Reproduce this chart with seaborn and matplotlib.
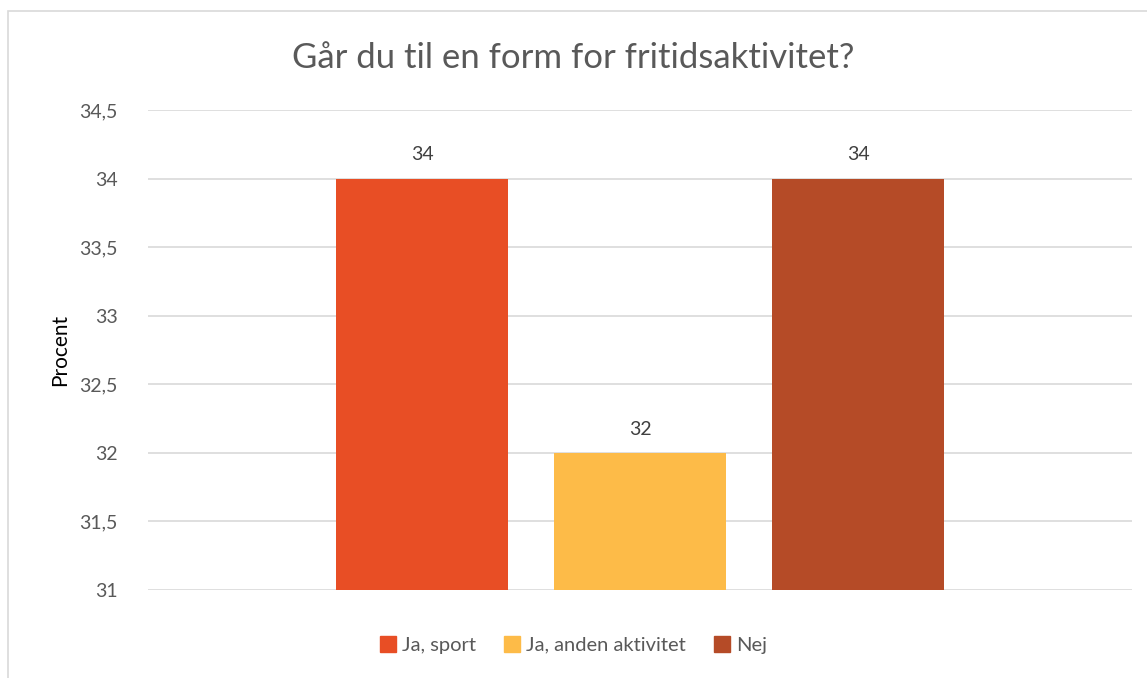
import matplotlib
matplotlib.use("Agg")
import matplotlib.pyplot as plt
from matplotlib.ticker import FuncFormatter
from matplotlib.patches import Rectangle
import seaborn as sns
import pandas as pd

categories = ["Ja, sport", "Ja, anden aktivitet", "Nej"]
values = [34, 32, 34]
colors = ["#E84E25", "#FDBB48", "#B54B27"]

sns.set_theme(style="white")
plt.rcParams['font.family'] = ['Lato', 'DejaVu Sans']

df = pd.DataFrame({"svar": categories, "procent": values})

fig = plt.figure(figsize=(11.47, 6.78), dpi=100)
ax = fig.add_axes([148 / 1147, 1 - 590 / 678, (1132 - 148) / 1147, (590 - 110) / 678])

sns.barplot(data=df, x="svar", y="procent", hue="svar", palette=colors,
            width=0.79, dodge=False, legend=False, ax=ax, saturation=1,
            linewidth=0)

ax.set_ylim(31, 34.5)
ax.set_xlim(-1.257, 3.257)
ax.set_yticks([31, 31.5, 32, 32.5, 33, 33.5, 34, 34.5])
ax.yaxis.set_major_formatter(FuncFormatter(lambda v, p: f"{v:g}".replace(".", ",")))
ax.tick_params(axis="y", labelsize=14, labelcolor="#595959", length=0, pad=22)
ax.set_xticks([])
ax.set_xlabel("")
ax.set_ylabel("Procent", fontsize=15, color="black", labelpad=6)
ax.grid(axis="y", color="#D9D9D9", linewidth=1.2)
ax.set_axisbelow(True)
for s in ax.spines.values():
    s.set_visible(False)

for i, v in enumerate(values):
    ax.annotate(f"{v}", (i, v), xytext=(0, 11), textcoords="offset points",
                ha="center", va="bottom", fontsize=14, color="#404040")

fig.text(0.5, 1 - 58 / 678, "Går du til en form for fritidsaktivitet?",
         ha="center", va="center", fontsize=25, color="#595959")

handles = [Rectangle((0, 0), 1, 1, color=c) for c in colors]
fig.legend(handles, categories, loc="center", bbox_to_anchor=(0.5, 1 - 645 / 678),
           ncol=3, frameon=False, fontsize=14.5, handlelength=0.8, handleheight=0.8,
           columnspacing=1.4, handletextpad=0.3, labelcolor="#595959")

fig.patches.append(Rectangle((8 / 1147, -0.05), 1.2, 1 - 11 / 678 + 0.05,
                             transform=fig.transFigure, fill=False,
                             edgecolor="#D9D9D9", linewidth=1.2))

fig.savefig("out.png", dpi=100)
